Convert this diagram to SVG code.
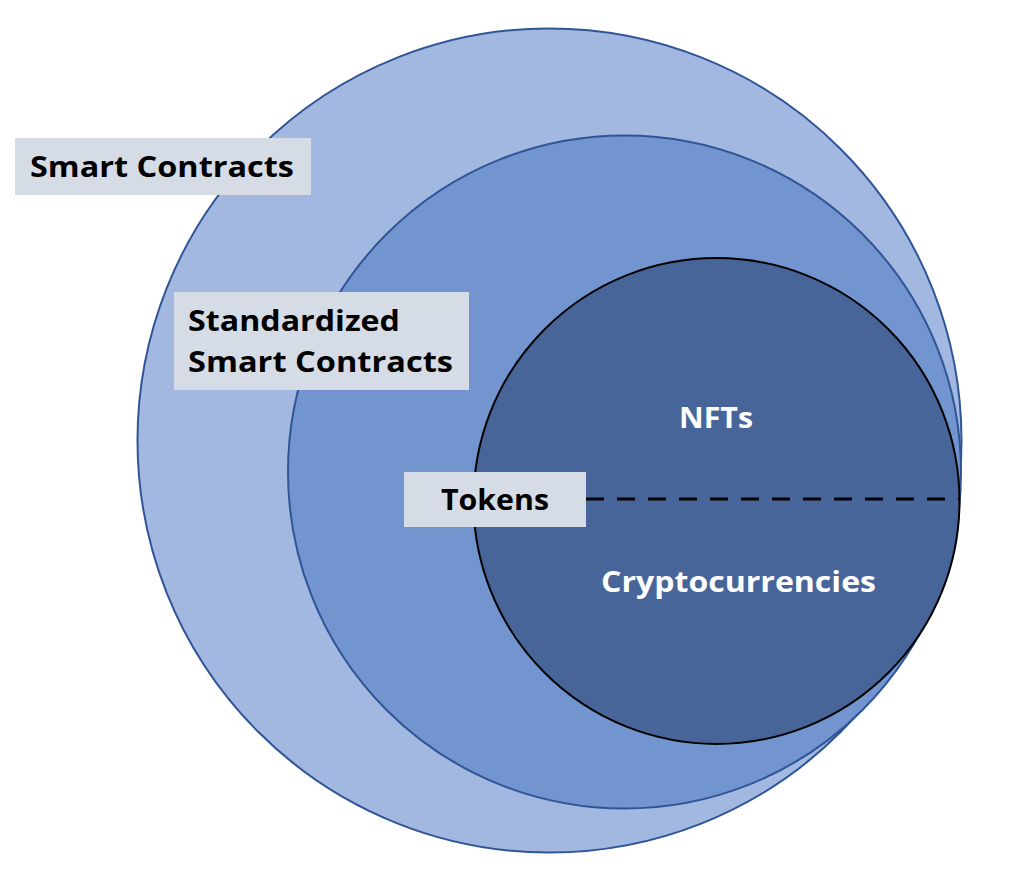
<svg xmlns="http://www.w3.org/2000/svg" width="1016" height="896" viewBox="0 0 1016 896">
<style>
.lbl{fill:#D6DCE5}
.t{font-family:"Open Sans",Lato,sans-serif;font-weight:bold;font-size:29px;fill:#000}
.w{font-family:"Open Sans",Lato,sans-serif;font-weight:bold;font-size:29px;fill:#fff}
</style>
<rect width="1016" height="896" fill="#fff"/>
<g id="outer"><circle cx="549.5" cy="440.5" r="412" fill="#A2B8E0" stroke="#2F5597" stroke-width="2"/></g>
<g id="middle"><circle cx="624.5" cy="472" r="336.5" fill="#7295D0" stroke="#2F5597" stroke-width="2"/></g>
<g id="inner"><circle cx="716.5" cy="501" r="243" fill="#476599" stroke="#000" stroke-width="2"/>
<text class="w" x="679" y="428" textLength="74" lengthAdjust="spacingAndGlyphs">NFTs</text>
<text class="w" x="601" y="592" textLength="275" lengthAdjust="spacingAndGlyphs">Cryptocurrencies</text></g>
<g id="connectors"><line x1="586" y1="499" x2="960" y2="499" stroke="#000" stroke-width="3" stroke-dasharray="18 13"/></g>
<g id="label-smart"><rect class="lbl" x="15" y="138" width="296" height="57"/><text class="t" x="30" y="177" textLength="264" lengthAdjust="spacingAndGlyphs">Smart Contracts</text></g>
<g id="label-std"><rect class="lbl" x="174" y="292" width="295" height="98"/><text class="t" x="188" y="331" textLength="212" lengthAdjust="spacingAndGlyphs">Standardized</text><text class="t" x="188" y="372" textLength="265" lengthAdjust="spacingAndGlyphs">Smart Contracts</text></g>
<g id="label-tokens"><rect class="lbl" x="404" y="472" width="182" height="55"/><text class="t" x="441" y="510" textLength="108" lengthAdjust="spacingAndGlyphs">Tokens</text></g>
</svg>
